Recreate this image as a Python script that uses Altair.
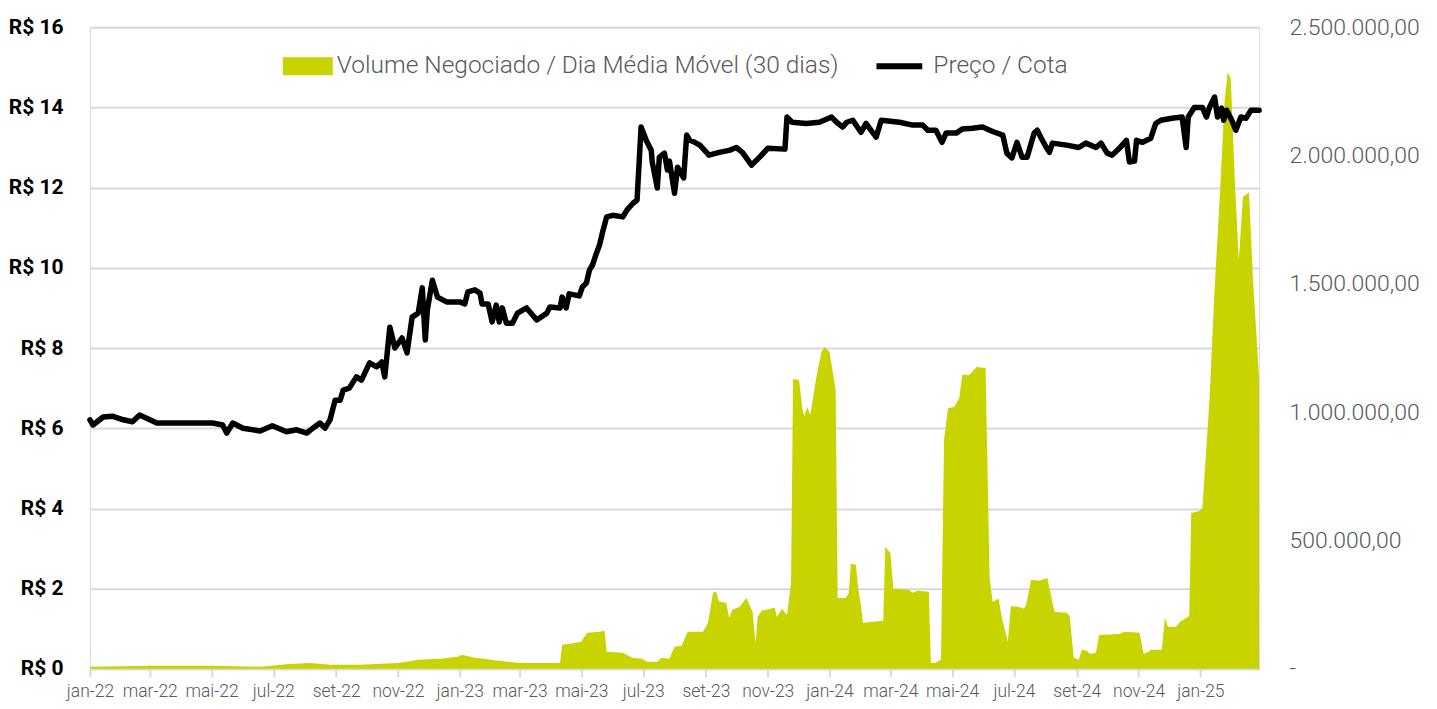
import altair as alt
import pandas as pd

# ---------------- data ----------------
vol_dates = [
    "2022-01-01", "2022-03-01", "2022-05-01", "2022-06-18", "2022-07-17", "2022-08-06", "2022-08-26",
    "2022-09-24", "2022-11-01", "2022-11-22", "2022-12-12", "2022-12-30", "2023-01-03", "2023-01-16",
    "2023-02-09", "2023-03-01", "2023-03-26", "2023-04-10", "2023-04-12", "2023-05-01", "2023-05-04",
    "2023-05-07", "2023-05-19", "2023-05-24", "2023-05-26", "2023-06-11", "2023-06-20", "2023-06-30",
    "2023-07-05", "2023-07-15", "2023-07-19", "2023-07-27", "2023-08-01", "2023-08-08", "2023-08-14",
    "2023-08-29", "2023-09-03", "2023-09-08", "2023-09-11", "2023-09-14", "2023-09-21", "2023-09-24",
    "2023-09-27", "2023-10-04", "2023-10-11", "2023-10-17", "2023-10-20", "2023-10-22", "2023-10-26",
    "2023-11-08", "2023-11-10", "2023-11-15", "2023-11-20", "2023-11-24", "2023-11-26", "2023-12-02",
    "2023-12-05", "2023-12-07", "2023-12-10", "2023-12-13", "2023-12-16", "2023-12-19", "2023-12-22",
    "2023-12-24", "2023-12-27", "2024-01-01", "2024-01-07", "2024-01-09", "2024-01-17", "2024-01-20",
    "2024-01-22", "2024-01-27", "2024-01-29", "2024-02-01", "2024-02-03", "2024-02-23", "2024-02-25",
    "2024-03-01", "2024-03-04", "2024-03-19", "2024-03-23", "2024-03-28", "2024-04-08", "2024-04-10",
    "2024-04-14", "2024-04-20", "2024-04-23", "2024-04-27", "2024-05-03", "2024-05-08", "2024-05-11",
    "2024-05-18", "2024-05-25", "2024-06-03", "2024-06-07", "2024-06-10", "2024-06-16", "2024-06-19",
    "2024-06-25", "2024-06-28", "2024-07-06", "2024-07-11", "2024-07-13", "2024-07-18", "2024-07-26",
    "2024-08-03", "2024-08-10", "2024-08-22", "2024-08-25", "2024-08-29", "2024-09-03", "2024-09-06",
    "2024-09-11", "2024-09-14", "2024-09-20", "2024-09-23", "2024-10-13", "2024-10-18", "2024-11-02",
    "2024-11-06", "2024-11-11", "2024-11-13", "2024-11-24", "2024-11-27", "2024-11-30", "2024-12-08",
    "2024-12-12", "2024-12-21", "2024-12-23", "2024-12-31", "2025-01-03", "2025-01-10", "2025-01-15",
    "2025-01-20", "2025-01-25", "2025-01-28", "2025-01-31", "2025-02-04", "2025-02-08", "2025-02-12",
    "2025-02-18", "2025-02-22", "2025-02-28",
]
vol_values = [
    8000, 12000, 12000, 8000, 19000, 23000, 16000,
    16000, 23000, 35000, 39000, 47000, 55000, 43000,
    31000, 23000, 23000, 23000, 93000, 105000, 125000,
    140000, 144000, 148000, 66000, 62000, 43000, 39000,
    27000, 27000, 43000, 39000, 86000, 90000, 144000,
    144000, 179000, 296000, 300000, 261000, 257000, 199000,
    230000, 241000, 276000, 222000, 101000, 202000, 226000,
    238000, 202000, 234000, 210000, 335000, 1129000, 1125000,
    1016000, 985000, 1020000, 989000, 1063000, 1137000, 1195000,
    1234000, 1254000, 1234000, 1086000, 276000, 276000, 296000,
    409000, 405000, 323000, 245000, 179000, 187000, 475000,
    452000, 312000, 308000, 296000, 304000, 300000, 23000,
    23000, 35000, 892000, 1016000, 1020000, 1055000, 1145000,
    1145000, 1176000, 1172000, 354000, 261000, 273000, 199000,
    105000, 245000, 241000, 234000, 249000, 347000, 343000,
    354000, 222000, 218000, 206000, 43000, 35000, 74000,
    70000, 58000, 62000, 132000, 136000, 144000, 140000,
    58000, 66000, 74000, 74000, 199000, 164000, 164000,
    183000, 206000, 607000, 615000, 627000, 1047000, 1476000,
    1826000, 2216000, 2325000, 2301000, 1904000, 1593000, 1838000,
    1857000, 1515000, 1130000,
]

price_dates = [
    "2022-01-01", "2022-01-04", "2022-01-14", "2022-01-23", "2022-02-03", "2022-02-12", "2022-02-19",
    "2022-02-26", "2022-03-08", "2022-03-31", "2022-05-02", "2022-05-12", "2022-05-16", "2022-05-22",
    "2022-06-01", "2022-06-18", "2022-06-30", "2022-07-14", "2022-07-24", "2022-08-03", "2022-08-09",
    "2022-08-16", "2022-08-21", "2022-08-26", "2022-08-31", "2022-09-05", "2022-09-08", "2022-09-14",
    "2022-09-21", "2022-09-26", "2022-10-04", "2022-10-11", "2022-10-16", "2022-10-19", "2022-10-24",
    "2022-10-29", "2022-11-05", "2022-11-10", "2022-11-15", "2022-11-21", "2022-11-25", "2022-11-28",
    "2022-11-30", "2022-12-05", "2022-12-10", "2022-12-19", "2023-01-01", "2023-01-06", "2023-01-09",
    "2023-01-16", "2023-01-21", "2023-01-23", "2023-01-29", "2023-02-02", "2023-02-06", "2023-02-09",
    "2023-02-12", "2023-02-16", "2023-02-22", "2023-02-27", "2023-03-08", "2023-03-18", "2023-03-28",
    "2023-03-31", "2023-04-10", "2023-04-12", "2023-04-16", "2023-04-19", "2023-04-29", "2023-05-02",
    "2023-05-06", "2023-05-09", "2023-05-12", "2023-05-16", "2023-05-19", "2023-05-22", "2023-05-26",
    "2023-06-01", "2023-06-11", "2023-06-15", "2023-06-21", "2023-06-25", "2023-06-29", "2023-07-04",
    "2023-07-09", "2023-07-10", "2023-07-15", "2023-07-17", "2023-07-22", "2023-07-25", "2023-07-27",
    "2023-08-01", "2023-08-04", "2023-08-10", "2023-08-13", "2023-08-16", "2023-08-21", "2023-08-26",
    "2023-09-04", "2023-09-14", "2023-09-24", "2023-10-01", "2023-10-07", "2023-10-16", "2023-10-24",
    "2023-11-01", "2023-11-18", "2023-11-20", "2023-11-25", "2023-12-09", "2023-12-22", "2024-01-03",
    "2024-01-08", "2024-01-14", "2024-01-18", "2024-01-24", "2024-02-01", "2024-02-06", "2024-02-11",
    "2024-02-16", "2024-02-21", "2024-03-10", "2024-03-23", "2024-04-02", "2024-04-07", "2024-04-15",
    "2024-04-21", "2024-04-25", "2024-05-05", "2024-05-11", "2024-05-21", "2024-05-31", "2024-06-10",
    "2024-06-20", "2024-06-24", "2024-06-29", "2024-07-04", "2024-07-09", "2024-07-14", "2024-07-21",
    "2024-07-24", "2024-07-28", "2024-08-02", "2024-08-05", "2024-08-08", "2024-08-22", "2024-09-03",
    "2024-09-10", "2024-09-20", "2024-09-25", "2024-10-01", "2024-10-06", "2024-10-13", "2024-10-20",
    "2024-10-23", "2024-10-28", "2024-10-30", "2024-11-05", "2024-11-13", "2024-11-18", "2024-11-23",
    "2024-12-04", "2024-12-14", "2024-12-18", "2024-12-20", "2024-12-26", "2025-01-03", "2025-01-07",
    "2025-01-10", "2025-01-15", "2025-01-18", "2025-01-22", "2025-01-24", "2025-01-27", "2025-02-01",
    "2025-02-05", "2025-02-10", "2025-02-15", "2025-02-20", "2025-02-28",
]
price_values = [
    6.21, 6.08, 6.28, 6.30, 6.21, 6.16, 6.33,
    6.25, 6.13, 6.13, 6.13, 6.08, 5.88, 6.13,
    6.00, 5.93, 6.06, 5.91, 5.96, 5.88, 6.00,
    6.13, 6.00, 6.21, 6.70, 6.70, 6.95, 7.00,
    7.28, 7.20, 7.63, 7.53, 7.65, 7.28, 8.52,
    8.00, 8.25, 7.88, 8.77, 8.87, 9.50, 8.20,
    8.95, 9.69, 9.27, 9.15, 9.15, 9.10, 9.40,
    9.45, 9.37, 9.10, 9.10, 8.65, 9.07, 8.65,
    9.00, 8.62, 8.62, 8.87, 9.00, 8.70, 8.87,
    9.02, 9.00, 9.27, 9.00, 9.35, 9.30, 9.52,
    9.62, 9.94, 10.07, 10.37, 10.57, 10.89, 11.27,
    11.31, 11.27, 11.44, 11.61, 11.69, 13.51, 13.18,
    12.93, 12.64, 11.99, 12.76, 12.86, 12.44, 12.66,
    11.86, 12.51, 12.24, 13.31, 13.18, 13.13, 13.06,
    12.81, 12.88, 12.93, 13.00, 12.88, 12.56, 12.76,
    12.98, 12.96, 13.76, 13.63, 13.60, 13.63, 13.76,
    13.63, 13.51, 13.63, 13.68, 13.38, 13.60, 13.43,
    13.26, 13.68, 13.63, 13.56, 13.56, 13.43, 13.43,
    13.13, 13.36, 13.36, 13.46, 13.48, 13.51, 13.40,
    13.31, 12.86, 12.74, 13.13, 12.76, 12.76, 13.36,
    13.43, 13.23, 13.00, 12.88, 13.11, 13.06, 13.00,
    13.11, 13.00, 13.11, 12.86, 12.81, 12.98, 13.18,
    12.64, 12.66, 13.18, 13.13, 13.23, 13.60, 13.68,
    13.73, 13.76, 13.00, 13.76, 14.00, 14.00, 13.76,
    14.00, 14.26, 13.76, 13.98, 13.68, 13.93, 13.68,
    13.43, 13.76, 13.73, 13.93, 13.93,
]

vol_label = "Volume Negociado / Dia Média Móvel (30 dias)"
price_label = "Preço / Cota"

price_ticks = [0, 2, 4, 6, 8, 10, 12, 14, 16]
vol_ticks = [0, 500000, 1000000, 1500000, 2000000, 2500000]
vol_tick_labels = ["-", "500.000,00", "1.000.000,00", "1.500.000,00", "2.000.000,00", "2.500.000,00"]
month_names = ["jan", "fev", "mar", "abr", "mai", "jun", "jul", "ago", "set", "out", "nov", "dez"]
x_tick_months = [(2022, m) for m in (1, 3, 5, 7, 9, 11)] + [(2023, m) for m in (1, 3, 5, 7, 9, 11)] + \
                [(2024, m) for m in (1, 3, 5, 7, 9, 11)] + [(2025, 1)]

# ---------------- styling ----------------
GREEN = "#c8d400"
GREY = "#595959"
GRID = "#d9d9d9"
FONT = "Roboto, sans-serif"

vol_df = pd.DataFrame({"date": vol_dates, "volume": vol_values, "serie": vol_label})
price_df = pd.DataFrame({"date": price_dates, "price": price_values, "serie": price_label})

x_domain = [alt.DateTime(year=2022, month=1, date=1, utc=True),
            alt.DateTime(year=2025, month=2, date=28, utc=True)]
x_values = [alt.DateTime(year=y, month=m, date=1, utc=True) for (y, m) in x_tick_months]
months_js = "[" + ",".join("'%s'" % m for m in month_names) + "]"
x_label_expr = months_js + "[utcmonth(datum.value)] + '-' + utcFormat(datum.value, '%y')"

vol_expr = ""
for v, lab in zip(vol_ticks, vol_tick_labels):
    vol_expr += "datum.value == %d ? '%s' : " % (v, lab)
vol_expr += "''"

x_enc = alt.X(
    "date:T",
    scale=alt.Scale(type="utc", domain=x_domain, nice=False),
    axis=alt.Axis(
        values=x_values, labelExpr=x_label_expr, title=None, grid=False,
        domain=True, domainColor=GRID, domainWidth=2,
        ticks=True, tickColor=GRID, tickWidth=2, tickSize=8,
        labelFont=FONT, labelFontSize=17.5, labelFontWeight=300, labelColor=GREY, labelPadding=6,
        labelAngle=0, labelOverlap=False, labelFlush=False, labelBound=False,
    ),
)

area = alt.Chart(vol_df).mark_area(interpolate="linear", opacity=1).encode(
    x=x_enc,
    y=alt.Y(
        "volume:Q",
        scale=alt.Scale(domain=[0, 2500000], nice=False, zero=True),
        axis=alt.Axis(
            orient="right", values=vol_ticks, labelExpr=vol_expr, title=None,
            grid=False, domain=False, ticks=False, labelPadding=30,
            labelFont=FONT, labelFontSize=23, labelFontWeight=300, labelColor=GREY, labelAlign="left",
        ),
    ),
    fill=alt.Fill(
        "serie:N",
        scale=alt.Scale(domain=[vol_label], range=[GREEN]),
        legend=alt.Legend(
            orient="none", legendX=193, legendY=14, title=None, padding=0,
            symbolType="M-1,-0.36H1V0.36H-1Z", symbolSize=2500, symbolStrokeWidth=0,
            labelFont=FONT, labelFontSize=24.5, labelFontWeight=300, labelColor=GREY,
            labelOffset=4, labelLimit=0,
        ),
    ),
)

line = alt.Chart(price_df).mark_line(
    interpolate="linear", strokeWidth=5.5, strokeJoin="round", strokeCap="round"
).encode(
    x=x_enc,
    y=alt.Y(
        "price:Q",
        scale=alt.Scale(domain=[0, 16], nice=False, zero=True),
        axis=alt.Axis(
            orient="left", values=price_ticks, labelExpr="'R$ ' + datum.value", title=None,
            grid=True, gridColor=GRID, gridWidth=2, domain=False, ticks=False,
            labelPadding=27, labelFont=FONT, labelFontSize=21, labelFontWeight="bold",
            labelColor="#000000",
        ),
    ),
    stroke=alt.Stroke(
        "serie:N",
        scale=alt.Scale(domain=[price_label], range=["#000000"]),
        legend=alt.Legend(
            orient="none", legendX=784, legendY=13, title=None, padding=0,
            symbolType="stroke", symbolSize=2100, symbolStrokeWidth=6,
            labelFont=FONT, labelFontSize=24.5, labelFontWeight=300, labelColor=GREY,
            labelOffset=8, labelLimit=0,
        ),
    ),
)

chart = alt.layer(area, line).resolve_scale(
    y="independent"
).properties(
    width=1170,
    height=642,
    autosize=alt.AutoSizeParams(type="none"),
    padding={"left": 82, "top": 19, "right": 170, "bottom": 34},
).configure_view(strokeWidth=0).configure(background="white")

chart.save("out.html", embed_options={"renderer": "svg", "actions": False})
